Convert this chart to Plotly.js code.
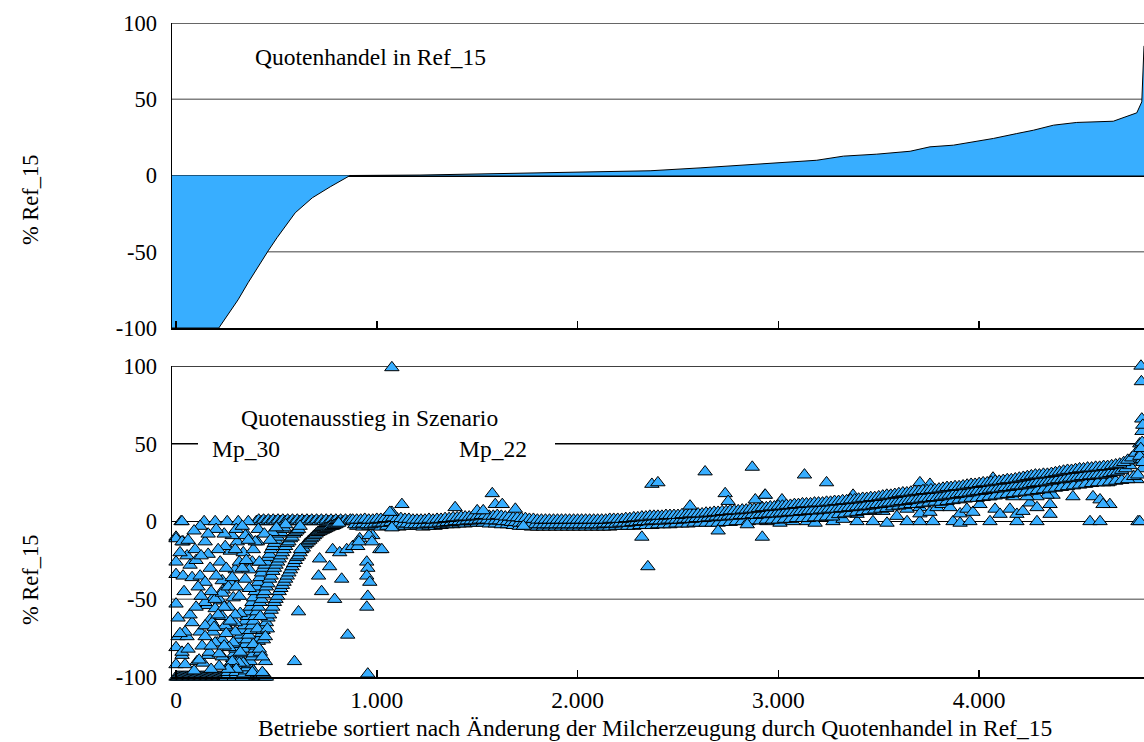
<!DOCTYPE html>
<html>
<head>
<meta charset="utf-8">
<script src="https://cdn.plot.ly/plotly-3.0.1.min.js"></script>
<style>html,body{margin:0;padding:0;background:#fff;overflow:hidden}</style>
</head>
<body>
<div id="chart" style="width:1144px;height:742px"></div>
<script>
// ---- Top panel: Quotenhandel in Ref_15 (sorted change, % Ref_15)
const topX = [-20, 213, 309, 359, 459, 503, 594, 679, 768, 867, 1215, 1530, 1863, 2112, 2361, 2610, 2859, 3108, 3191, 3324, 3490, 3656, 3755, 3872, 4071, 4187, 4270, 4370, 4486, 4668, 4785, 4810, 4818, 4821];
const topY = [-100, -100, -81.5, -70.3, -49.4, -40.8, -24.4, -14.6, -7.4, 0, 0.3, 1.0, 1.7, 2.4, 3.1, 5.0, 7.2, 9.2, 10.0, 12.7, 14.0, 15.9, 18.8, 19.9, 24.3, 27.5, 29.7, 33.0, 34.8, 35.6, 41.1, 48.3, 70, 85];

// ---- Bottom panel: Quotenausstieg in Szenario (farms in sort order, % Ref_15)
// rows of densely packed farms: first farm index, spacing, values
const lowRowStart = 0, lowRowStep = 6;
const lowRowY = [-100,-100,-100,-100,-100,-100,-100,-100,-100,-100,-100,-100,-100,-100,-100,-100,-100,-100,-100,-100,-100,-100,-100,-100,-100,-100,-100,-100,-100,-100,-100,-100,-100,-100,-100,-100,-100,-100,-100,-100,-100,-100,-100,-100,-100,-100,-100,-100,-100,-100,-100,-100,-100,-100,-100,-100,-100,-100,-100,-100,-100,-100,-100,-100,-100,-100,-100,-100,-100,-100,-100,-100,-100,-100,-100,-100];

const zeroLeftStart = 400, zeroLeftStep = 12;
const zeroLeftY = [0,1,0,1,0,1,0,1,0,1,0,1,0,1,0,1,0,1,0,1,0,1,0,1,0,1,0,1,0,1,0,1,0,1,0,1,0,1,0,1,0];
const zeroSparseX = [25,140,195,255,310,360];
const zeroSparseY = [0,0,0,0,0,0];

const band1Start = 250, band1Step = 8;
const band1Y = [-100,-97,-94,-91,-88,-85,-82,-79,-76,-73,-70,-67,-64,-61,-58,-55,-52,-49,-45,-42,-39,-36,-33,-30,-28,-26,-23,-21,-18,-16,-14,-12,-10,-8,-7,-5,-4,-2];
const bandMStart = 290, bandMStep = 8;
const bandMY = [-100,-97,-94,-91,-88,-85,-82,-79,-76,-73,-70,-67,-64,-61,-58,-55,-52,-50,-47,-45,-42,-40,-37,-35,-32,-30,-28,-26,-24,-22,-20,-18,-16,-14,-13,-11,-10,-8,-7,-6,-5,-3];
const band2Start = 330, band2Step = 8;
const band2Y = [-100,-98,-96,-94,-92,-90,-87,-85,-82,-80,-77,-75,-72,-70,-67,-65,-62,-60,-57,-55,-52,-50,-48,-45,-43,-41,-39,-37,-35,-33,-31,-29,-27,-25,-23,-22,-20,-18,-17,-15,-14,-13,-12,-11,-10,-9,-8,-7,-6.5,-6,-5.5,-5,-4.5,-4,-3.5,-3,-3,-2.5,-2,-1.5,-1];

const scatLeftX = [0,0,30,0,0,35,55,20,35,95,145,160,80,120,145,220,0,10,55,30,0,45,105,135,160,120,155,170,185,205,230,255,155,185,220,235,270,285,295,270,305,355,335,385,405,380,345,320,295,285,320,335,385,435,420,445,385,435,405,455,420,620,710,715,765,780,815,850,880,825,725,790,610,855,590,950,955,950,965,955,950,955,915,1015,980,905,911,961,976,0,30,145,195,245,295,395,345,280,480,415,315,365,230,280,365,230,315,195,265,230,295,180,245,295,145,80,45,145,195,265,165,230,115,30,315,415,430,445,380,430,
  60,70,100,110,125,170,175,200,210,250,260,240,210,190,250,270,280,300,260,215,175,90,60,20,70,100,125,40,10,130,175,215,240,300,330,350,360,410,440,470,500,240,200,160,120,90,300,330];
const scatLeftY = [-53,-10,0,-26,-34,-13,-22,-20,-35,-18,-13,-21,-36,-35,-39,-26,-81,-74,-74,-86,-92,-92,-90,-91,-86,-71,-67,-63,-71,-78,-76,-68,-54,-49,-51,-44,-39,-49,-31,-19,-13,-9,-20,-18,-13,-26,-37,-59,-65,-78,-84,-91,-79,-76,-84,-90,-96,-98,-69,-69,-61,-18,-35,-24,-29,-18,-20,-18,-16,-37,-45,-50,-58,-73,-90,-26,-30,-35,-39,-48,-55,-98,-11,-18,-9,-16,-13,-9,-13,-11,-13,-52,-50,-16,-18,-13,-9,-9,-7,-26,-26,-31,-38,-36,-43,-46,-48,-56,-55,-61,-60,-65,-67,-71,-67,-65,-71,-74,-78,-81,-84,-87,-89,-84,-91,-82,-87,-74,-97,-97,
  -12,-28,-25,-42,-22,-30,-45,-35,-18,-30,-42,-55,-60,-68,-72,-64,-90,-95,-95,-93,-95,-96,-82,-72,-60,-55,-48,-45,-62,-80,-80,-85,-80,-42,-30,-25,-12,-5,-8,-12,-4,-8,-5,-8,-3,-6,-5,-3];

const bandAStart = 880, bandAStep = 20;
const bandAY = [1,1,1,1.5,1,1,1.5,
  1.5,2,2,2.5,2,2,1.5,1.5,1,1,
  1,1,1.5,1,1.5,1.5,2,2,2.5,2.5,
  3,3,3,3.5,3.5,4,4,3.5,3.5,4,
  3.5,3,3,2.5,2.5,2,2,1.5,1.5,1,
  1,1,1,1,1,1,1,1,1,1,
  1,1,1,1,1,1,1,1.5,1.5,1.5,
  1.5,2,2,2.5,2.5,3,3,3.5,3.5,3.5,
  3.5,4,4,4,4,4.5,4.5,5,5,5,
  5,5.5,5.5,6,6,6.5,6.5,7,7,7,
  7.5,7.5,8,8,8.5,9,9,9.5,9.5,10,
  10,10.5,10.5,11,11,11.5,11.5,11.5,12,12,
  12,12.5,12.5,13,13,13.5,13.5,14,14,14.5,
  15,15,15.5,15.5,16,16.5,17,17,17.5,18,
  18.5,18.5,19,19.5,19.5,20,20,20.5,20.5,21,
  21.5,22,22,22.5,22.5,23,23.5,24,24,24.5,
  25,25,25.5,26,26,26.5,27,27,27.5,28,
  28.5,29,29.5,30,30,30.5,30.5,31,31.5,32,
  32.5,33,33,33.5,34,34,34.5,34.5,35,35,
  35.5,35.5,36,36.5,37,38,39.5,41,44,50];
const bandBStart = 890, bandBStep = 20;
const bandBY = [-2,-2,-1.5,-2,-2,-1.5,-1,-1,-1,-0.5,
  -1,-1,-1.5,-1.5,-2,-2,-2,-2,-1.5,-1.5,
  -1.5,-1,-1,-0.5,-0.5,0,0,0,0.5,0.5,
  0.5,1,1,1,0.5,0.5,0.5,0,0,-0.5,
  -0.5,-1,-1,-1.5,-1.5,-2,-2,-2,-2,-2,
  -2,-2,-2,-2,-2,-2,-2,-2,-2,-2,
  -2,-2,-1.5,-1.5,-1.5,-1.5,-1,-1,-1,-0.5,
  -0.5,0,0,0,0.5,0.5,0.5,0.5,1,1,
  1,1,1.5,1.5,1.5,2,2,2,2.5,2.5,
  3,3,3,3.5,3.5,3.5,4,4,4,4.5,
  4,4.5,4.5,5,5,5,5.5,5.5,6,6,
  6,6.5,6.5,7,7,7,7.5,7.5,8,8,
  8,8.5,8.5,9,9,9.5,9.5,10,10,10.5,
  11,11,11.5,12,12,12.5,13,13,13.5,14,
  14,14.5,15,15,15.5,15.5,16,16.5,17,17,
  17.5,18,18,18.5,19,19.5,19.5,20,20.5,21,
  21,21.5,22,22,22.5,23,23,23.5,24,24.5,
  25,25,25.5,26,26.5,27,27,27.5,28,28,
  28.5,29,29,29.5,29.5,30,30,30.5,31,31.5,
  32,33,34,36,39,44];
const bandCStart = 900, bandCStep = 30;
const bandCY = [-3,-3.5,-3,-3,-3.5,-3,-3.5,-3.5,-3,-3,
  -3,-3.5,-3,-3,-2.5,-2,-2,-1.5,-1.5,-1,
  -1,-1,-1.5,-1.5,-2,-2,-2.5,-3,-3,-3.5,
  -3.5,-3.5,-3.5,-3.5,-3.5,-3.5,-3.5,-3.5,-3.5,-3.5,
  -3.5,-3.5,-3.5,-3,-3,-3,-3,-2.5,-2.5,-2.5,
  -2,-2,-2,-1.5,-1.5,-1.5,-1,-1,-1,-1,
  -1,-0.5,-0.5,0,0,0,0.5,0.5,1,1,
  1,1.5,1.5,2,2,2,2.5,2.5,3,3,
  4.5,5,5.5,6,6.5,7,7.5,8,8.5,9.5,
  10,10.5,11,11,11.5,12,12.5,12.5,13,13.5,
  14,14.5,15,15,15.5,16,16.5,17,17.5,18,
  18.5,19,19.5,20,20.5,21,21.5,22,22.5,23,
  23.5,24,24.5,25,25,25.5,26,26.5,27,29];

const zeroRightX = [2943,3008,3073,3143,3183,3272,3392,3471,3541,3641,3705,3770,3870,3905,3954,4054,4188,4288,4552,4602,4791];
const zeroRightY = [0,-1,0,0,-1,0,0,0,-1,0,0,0,0,-1,0,0,0,0,0,0,0];

const midRightX = [3008,3108,3197,3322,3392,3471,3521,3590,3641,3705,3705,3755,3790,3815,3855,3905,3939,3969,4004,4054,4079,4104,4153,4188,4218,4253,4288,4353,4368,4353,4467,4567,4602,4651,4617,4786,4641,4592,4552,4403,4418,4467,4338,4288,4238,4168,4104,4069,3905,3840,3740,3705,3755,3571,3471,3372,3357,3018,2933];
const midRightY = [8,3,6,1.5,4.7,6.6,6.6,3.4,8,9,5,6,9,11,9,5,8,6,11,16,8,4.7,8,4.7,6.6,12,9,11,17,4.7,16,16,14,11,11,27,25,26,26,25,24,26,17,16,16,16,19,28,21,16,16,25,24,16,14,17,14,14,17];

const outMidX = [1075,1125,1075,1390,1575,1590,1625,1690,1500,1530,1730,1025,1075,2320,2350,2370,2400,2635,2870,2735,2750,2700,2920,2885,2935,2845,2560,3130,3240,1065];
const outMidY = [99,11,6,9,18,11,11,8,7,7,-3,-18,-4,-10,-29,24,25,32,35,18,13,-6,-10,14,17,-2,10,30,25,6];

const spikeX = [4806,4808,4810,4811,4812,4812,4813,4813,4800,4790,4800,4805,4815,4815];
const spikeY = [100,90,66,58,51,45,40,34,0,30,42,47,62,38];

const xTickVals = [0,1000,2000,3000,4000];
const xTickText = ['0','1.000','2.000','3.000','4.000'];
const yTickVals = [-100,-50,0,50,100];
const yTickText = ['-100','-50','0','50','100'];

// farm positions of the densely packed rows
function rowX(start, step, vals) { return vals.map((_, i) => start + i * step); }

const scatX = [].concat(
  rowX(lowRowStart, lowRowStep, lowRowY), rowX(zeroLeftStart, zeroLeftStep, zeroLeftY), zeroSparseX,
  rowX(band1Start, band1Step, band1Y), rowX(bandMStart, bandMStep, bandMY), rowX(band2Start, band2Step, band2Y),
  scatLeftX, zeroRightX, midRightX,
  rowX(bandCStart, bandCStep, bandCY), rowX(bandBStart, bandBStep, bandBY), rowX(bandAStart, bandAStep, bandAY),
  outMidX, spikeX);
const scatY = [].concat(
  lowRowY, zeroLeftY, zeroSparseY, band1Y, bandMY, band2Y,
  scatLeftY, zeroRightY, midRightY, bandCY, bandBY, bandAY, outMidY, spikeY);

const FONT = 'Liberation Serif';
const BLUE = '#38AEFF';

const traces = [
  {x: topX, y: topY, xaxis: 'x', yaxis: 'y', type: 'scatter', mode: 'lines',
   fill: 'tozeroy', fillcolor: BLUE, line: {color: '#000', width: 1}, hoverinfo: 'skip'},
  {x: scatX, y: scatY, xaxis: 'x2', yaxis: 'y2', type: 'scatter', mode: 'markers', cliponaxis: false,
   marker: {symbol: 'triangle-up', size: 12.5, color: BLUE, line: {color: '#000', width: 1}}}
];

const yBase = {
  range: [-100, 100], tickvals: yTickVals, ticktext: yTickText, ticks: '',
  showgrid: false,
  zeroline: true, zerolinecolor: '#000', zerolinewidth: 2,
  showline: true, linecolor: '#000', linewidth: 1.5,
  ticklabelstandoff: 9, tickfont: {family: FONT, size: 22.5, color: '#000'}, fixedrange: true
};
const xBase = {
  range: [-20, 4821], tickvals: xTickVals, ticktext: xTickText, ticks: 'inside', ticklen: 7,
  tickcolor: '#000', tickwidth: 1.5, showgrid: false, zeroline: false,
  showline: true, linecolor: '#000', linewidth: 1.5,
  tickfont: {family: FONT, size: 23.5, color: '#000'}, fixedrange: true
};

function px(x) { return (x - 172) / 972; }
function py(y) { return 1 - (y - 23) / 654; }
function hline(yref, y, color) {
  return {type: 'line', xref: 'paper', yref: yref, x0: 0, x1: 1, y0: y, y1: y, layer: 'below', line: {color: color, width: 1.5}};
}
const TF = {family: FONT, size: 23.5, color: '#000'};

const layout = {
  width: 1144, height: 742,
  margin: {l: 172, r: 0, t: 23, b: 65},
  paper_bgcolor: '#fff', plot_bgcolor: 'rgba(0,0,0,0)',
  showlegend: false,
  font: {family: FONT, size: 22, color: '#000'},
  xaxis: Object.assign({}, xBase, {anchor: 'y', showticklabels: false}),
  yaxis: Object.assign({}, yBase, {domain: [0.5336, 1], anchor: 'x'}),
  xaxis2: Object.assign({}, xBase, {anchor: 'y2', showticklabels: true, ticklabelstandoff: 1}),
  yaxis2: Object.assign({}, yBase, {domain: [0, 0.4755], anchor: 'x2', zerolinewidth: 1.5}),
  shapes: [
    hline('y', 100, '#333'), hline('y', 50, '#808080'), hline('y', -50, '#808080'),
    hline('y2', 100, '#000'), hline('y2', 50, '#000'), hline('y2', -50, '#808080'),
    {type: 'rect', xref: 'paper', yref: 'paper', x0: px(198), x1: px(555), y0: py(454), y1: py(436), layer: 'above', fillcolor: '#fff', line: {width: 0}}
  ],
  annotations: [
    {text: 'Quotenhandel in Ref_15', xref: 'paper', yref: 'paper', x: px(253), y: py(57), xanchor: 'left', yanchor: 'middle', showarrow: false, font: TF},
    {text: 'Quotenausstieg in Szenario', xref: 'paper', yref: 'paper', x: px(239), y: py(418), xanchor: 'left', yanchor: 'middle', showarrow: false, font: TF},
    {text: 'Mp_30', xref: 'paper', yref: 'paper', x: px(210), y: py(449), xanchor: 'left', yanchor: 'middle', showarrow: false, font: TF},
    {text: 'Mp_22', xref: 'paper', yref: 'paper', x: px(457), y: py(449), xanchor: 'left', yanchor: 'middle', showarrow: false, font: TF},
    {text: '% Ref_15', xref: 'paper', yref: 'paper', x: px(30), y: py(200), xanchor: 'center', yanchor: 'middle', textangle: -90, showarrow: false, font: {family: FONT, size: 22.5}},
    {text: '% Ref_15', xref: 'paper', yref: 'paper', x: px(30), y: py(580), xanchor: 'center', yanchor: 'middle', textangle: -90, showarrow: false, font: {family: FONT, size: 22.5}},
    {text: 'Betriebe sortiert nach Änderung der Milcherzeugung durch Quotenhandel in Ref_15', xref: 'paper', yref: 'paper', x: px(655), y: py(728), xanchor: 'center', yanchor: 'middle', showarrow: false, font: TF}
  ]
};

Plotly.newPlot('chart', traces, layout, {staticPlot: true, displayModeBar: false});
</script>
</body>
</html>
